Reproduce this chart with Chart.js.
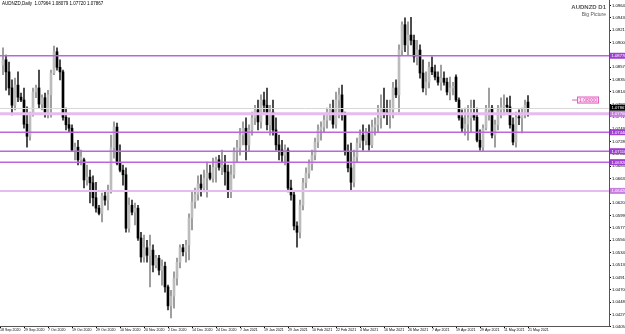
<!DOCTYPE html>
<html>
<head>
<meta charset="utf-8">
<script src="https://cdn.jsdelivr.net/npm/chart.js@4/dist/chart.umd.min.js"></script>
<style>
  html, body { margin: 0; padding: 0; background: #fff; }
  #chart { display: block; }
</style>
</head>
<body>
<canvas id="chart" width="625" height="334"></canvas>
<script>
// AUDNZD daily candles
const openP = [
  1.0861,1.0870,1.0849,1.0821,1.0791,1.0826,1.0805,1.0800,1.0758,1.0737,
  1.0774,1.0814,1.0821,1.0793,1.0804,1.0779,1.0809,1.0847,1.0884,1.0857,
  1.0849,1.0770,1.0757,1.0751,1.0713,1.0718,1.0696,1.0696,1.0661,1.0666,
  1.0656,1.0630,1.0612,1.0603,1.0633,1.0626,1.0643,1.0717,1.0753,1.0690,
  1.0678,1.0670,1.0577,1.0617,1.0605,1.0612,1.0560,1.0527,1.0543,1.0530,
  1.0539,1.0513,1.0525,1.0504,1.0511,1.0475,1.0442,1.0459,1.0490,1.0518,
  1.0543,1.0536,1.0548,1.0595,1.0623,1.0636,1.0654,1.0647,1.0664,1.0673,
  1.0664,1.0683,1.0696,1.0683,1.0687,1.0675,1.0643,1.0670,1.0710,1.0717,
  1.0739,1.0751,1.0722,1.0748,1.0769,1.0783,1.0762,1.0800,1.0791,1.0757,
  1.0779,1.0748,1.0722,1.0713,1.0704,1.0713,1.0647,1.0635,1.0581,1.0570,
  1.0617,1.0656,1.0673,1.0689,1.0704,1.0727,1.0748,1.0753,1.0765,1.0779,
  1.0783,1.0758,1.0800,1.0809,1.0774,1.0710,1.0682,1.0657,1.0701,1.0725,
  1.0739,1.0730,1.0744,1.0722,1.0753,1.0757,1.0769,1.0786,1.0779,1.0774,
  1.0783,1.0821,1.0809,1.0887,1.0931,1.0896,1.0913,1.0904,1.0875,1.0887,
  1.0847,1.0821,1.0831,1.0857,1.0849,1.0840,1.0831,1.0838,1.0831,1.0814,
  1.0821,1.0840,1.0800,1.0769,1.0751,1.0758,1.0769,1.0777,1.0770,1.0730,
  1.0718,1.0751,1.0783,1.0786,1.0739,1.0757,1.0783,1.0788,1.0791,1.0788,
  1.0757,1.0727,1.0770,1.0769,1.0774,1.07964
];
const highP = [
  1.0891,1.0878,1.0866,1.0835,1.0838,1.0849,1.0812,1.0821,1.0788,1.0779,
  1.0821,1.0826,1.0852,1.0809,1.0812,1.0817,1.0852,1.0894,1.0891,1.0870,
  1.0852,1.0786,1.0769,1.0757,1.0725,1.0730,1.0713,1.0699,1.0687,1.0678,
  1.0668,1.0657,1.0617,1.0638,1.0643,1.0652,1.0739,1.0762,1.0760,1.0722,
  1.0687,1.0682,1.0630,1.0626,1.0621,1.0617,1.0570,1.0565,1.0556,1.0565,
  1.0548,1.0530,1.0530,1.0522,1.0518,1.0478,1.0469,1.0501,1.0525,1.0548,
  1.0549,1.0556,1.0602,1.0643,1.0647,1.0668,1.0670,1.0678,1.0692,1.0687,
  1.0699,1.0701,1.0704,1.0713,1.0704,1.0687,1.0687,1.0717,1.0730,1.0751,
  1.0762,1.0769,1.0757,1.0779,1.0791,1.0800,1.0809,1.0814,1.0821,1.0791,
  1.0800,1.0769,1.0739,1.0730,1.0722,1.0717,1.0661,1.0643,1.0588,1.0626,
  1.0664,1.0682,1.0696,1.0713,1.0734,1.0757,1.0762,1.0774,1.0786,1.0793,
  1.0800,1.0814,1.0821,1.0826,1.0779,1.0722,1.0725,1.0713,1.0734,1.0748,
  1.0757,1.0751,1.0757,1.0765,1.0769,1.0791,1.0809,1.0821,1.0800,1.0800,
  1.0831,1.0835,1.0896,1.0936,1.0943,1.0936,1.0944,1.0913,1.0904,1.0896,
  1.0870,1.0849,1.0866,1.0875,1.0861,1.0849,1.0861,1.0849,1.0838,1.0840,
  1.0831,1.0844,1.0804,1.0783,1.0786,1.0791,1.0800,1.0800,1.0786,1.0748,
  1.0757,1.0791,1.0821,1.0791,1.0765,1.0791,1.0804,1.0809,1.0804,1.0807,
  1.0769,1.0779,1.0783,1.0786,1.0800,1.08079
];
const lowP = [
  1.0844,1.0817,1.0809,1.0774,1.0783,1.0797,1.0797,1.0751,1.0718,1.0730,
  1.0772,1.0804,1.0786,1.0783,1.0770,1.0769,1.0770,1.0844,1.0852,1.0835,
  1.0765,1.0748,1.0744,1.0710,1.0696,1.0687,1.0687,1.0647,1.0652,1.0621,
  1.0616,1.0605,1.0600,1.0588,1.0617,1.0609,1.0638,1.0699,1.0687,1.0675,
  1.0652,1.0570,1.0570,1.0600,1.0583,1.0556,1.0518,1.0518,1.0518,1.0475,
  1.0501,1.0508,1.0496,1.0478,1.0466,1.0435,1.0421,1.0438,1.0478,1.0508,
  1.0529,1.0518,1.0522,1.0574,1.0612,1.0626,1.0633,1.0640,1.0631,1.0661,
  1.0657,1.0657,1.0678,1.0670,1.0652,1.0630,1.0630,1.0664,1.0692,1.0704,
  1.0722,1.0696,1.0710,1.0739,1.0757,1.0748,1.0751,1.0779,1.0748,1.0739,
  1.0739,1.0713,1.0696,1.0692,1.0687,1.0640,1.0626,1.0574,1.0544,1.0560,
  1.0609,1.0647,1.0664,1.0678,1.0696,1.0717,1.0730,1.0744,1.0751,1.0765,
  1.0751,1.0751,1.0769,1.0765,1.0704,1.0675,1.0643,1.0649,1.0692,1.0717,
  1.0713,1.0722,1.0713,1.0717,1.0739,1.0744,1.0751,1.0769,1.0757,1.0751,
  1.0769,1.0804,1.0779,1.0878,1.0884,1.0878,1.0896,1.0866,1.0861,1.0838,
  1.0814,1.0809,1.0821,1.0844,1.0835,1.0826,1.0817,1.0826,1.0809,1.0800,
  1.0809,1.0797,1.0765,1.0744,1.0739,1.0730,1.0744,1.0765,1.0727,1.0713,
  1.0710,1.0748,1.0765,1.0734,1.0718,1.0748,1.0769,1.0774,1.0779,1.0751,
  1.0722,1.0718,1.0757,1.0743,1.0769,1.07720
];
const closeP = [
  1.0870,1.0849,1.0821,1.0791,1.0826,1.0805,1.0800,1.0758,1.0737,1.0774,
  1.0814,1.0821,1.0793,1.0804,1.0779,1.0809,1.0847,1.0884,1.0857,1.0849,
  1.0770,1.0757,1.0751,1.0713,1.0718,1.0696,1.0701,1.0661,1.0666,1.0656,
  1.0630,1.0612,1.0603,1.0633,1.0626,1.0643,1.0717,1.0753,1.0690,1.0678,
  1.0670,1.0577,1.0617,1.0605,1.0612,1.0560,1.0527,1.0543,1.0530,1.0546,
  1.0513,1.0525,1.0504,1.0511,1.0475,1.0442,1.0459,1.0490,1.0518,1.0543,
  1.0536,1.0548,1.0595,1.0623,1.0636,1.0654,1.0647,1.0664,1.0673,1.0664,
  1.0683,1.0696,1.0683,1.0687,1.0675,1.0643,1.0670,1.0710,1.0717,1.0739,
  1.0751,1.0722,1.0748,1.0769,1.0783,1.0762,1.0800,1.0791,1.0757,1.0779,
  1.0748,1.0722,1.0713,1.0704,1.0713,1.0647,1.0635,1.0581,1.0570,1.0617,
  1.0656,1.0673,1.0689,1.0704,1.0727,1.0748,1.0753,1.0765,1.0779,1.0783,
  1.0758,1.0800,1.0809,1.0774,1.0710,1.0682,1.0657,1.0701,1.0725,1.0739,
  1.0730,1.0744,1.0722,1.0753,1.0757,1.0769,1.0786,1.0779,1.0774,1.0783,
  1.0821,1.0809,1.0887,1.0931,1.0896,1.0913,1.0904,1.0875,1.0887,1.0847,
  1.0821,1.0831,1.0857,1.0849,1.0840,1.0831,1.0838,1.0831,1.0814,1.0821,
  1.0824,1.0800,1.0769,1.0751,1.0758,1.0769,1.0777,1.0770,1.0730,1.0718,
  1.0751,1.0783,1.0786,1.0739,1.0757,1.0783,1.0788,1.0791,1.0788,1.0757,
  1.0727,1.0770,1.0769,1.0774,1.0791,1.07867
];

// one date label every 8 bars
const xLabels = ['18 Sep 2020','29 Sep 2020','7 Oct 2020','19 Oct 2020','29 Oct 2020',
  '10 Nov 2020','20 Nov 2020','2 Dec 2020','14 Dec 2020','24 Dec 2020','7 Jan 2021',
  '19 Jan 2021','29 Jan 2021','10 Feb 2021','22 Feb 2021','4 Mar 2021','16 Mar 2021',
  '26 Mar 2021','7 Apr 2021','19 Apr 2021','29 Apr 2021','11 May 2021','21 May 2021'];

const yTicks = [1.04055,1.04270,1.04485,1.04700,1.04915,1.05130,1.05345,1.05560,
  1.05775,1.05990,1.06205,1.06420,1.06635,1.06850,1.07065,1.07280,1.07495,1.07710,
  1.07925,1.08140,1.08355,1.08570,1.08785,1.09000,1.09215,1.09430,1.09645];

// support / resistance levels
const levelValues = [1.0877, 1.0776, 1.0744, 1.0711, 1.0692, 1.0642];
const levelColors = ['#bb66dd', '#e4bdf0', '#bb66dd', '#bb66dd', '#bb66dd', '#e4bdf0'];
const levelWidths = [1.5, 3, 1.5, 1.5, 1.5, 2];
const lastPrice = 1.07867;
const markPrice = 1.08000;

const isUp = i => closeP[i] >= openP[i];

// Chart.js reserves room for half a tick label at the edges; the reference has none
function noPadding(s) {
    s.paddingTop = 0; s.paddingBottom = 0; s.paddingLeft = 0; s.paddingRight = 0;
}

const overlay = {
    id: 'overlay',
    afterDatasetsDraw(chart) {
        const ctx = chart.ctx;
        const a = chart.chartArea;
        const y = chart.scales.y;
        ctx.save();

        // last price line
        let py = Math.round(y.getPixelForValue(lastPrice)) + 0.5;
        ctx.strokeStyle = '#d8d8d8';
        ctx.lineWidth = 1;
        ctx.beginPath(); ctx.moveTo(a.left, py); ctx.lineTo(a.right, py); ctx.stroke();

        levelValues.forEach((v, k) => {
            const ly = y.getPixelForValue(v);
            ctx.strokeStyle = levelColors[k];
            ctx.lineWidth = levelWidths[k];
            ctx.beginPath(); ctx.moveTo(a.left, ly); ctx.lineTo(a.right, ly); ctx.stroke();
        });

        // price boxes on the axis
        ctx.font = '4.2px "Liberation Sans"';
        ctx.textBaseline = 'middle';
        ctx.textAlign = 'left';
        const box = (v, col) => {
            const by = y.getPixelForValue(v);
            ctx.fillStyle = col;
            ctx.fillRect(a.right + 1, by - 3, 16, 6);
            ctx.fillStyle = '#fff';
            ctx.fillText(v.toFixed(5), a.right + 2.5, by + 0.3);
        };
        levelValues.forEach((v, k) => box(v, k === 1 || k === 5 ? '#c77ee0' : '#a040d0'));
        box(lastPrice, '#000');

        // 1.08000 mark
        const my = y.getPixelForValue(markPrice);
        ctx.strokeStyle = '#e060c0';
        ctx.lineWidth = 1;
        ctx.beginPath(); ctx.moveTo(572, my); ctx.lineTo(577, my); ctx.stroke();
        ctx.fillStyle = '#fde2f4';
        ctx.fillRect(577, my - 3.5, 22, 7);
        ctx.strokeRect(577.5, my - 3, 21, 6);
        ctx.fillStyle = '#e040b0';
        ctx.font = '5px "Liberation Sans"';
        ctx.fillText('1.08000', 579, my + 0.3);

        // titles
        ctx.fillStyle = '#000';
        ctx.font = '4.5px "Liberation Sans"';
        ctx.textBaseline = 'top';
        ctx.fillText('AUDNZD,Daily  1.07964 1.08079 1.07720 1.07867', 2, 2);
        ctx.textAlign = 'right';
        ctx.fillStyle = '#555';
        ctx.font = 'bold 6px "Liberation Sans"';
        ctx.fillText('AUDNZD D1', 606, 4);
        ctx.font = '5px "Liberation Sans"';
        ctx.fillText('Big Picture', 606, 12.5);
        ctx.restore();
    }
};

new Chart(document.getElementById('chart'), {
    type: 'bar',
    data: {
        datasets: [
            {
                label: 'body',
                data: openP.map((o, i) => ({ x: i, y: [o, closeP[i]] })),
                backgroundColor: openP.map((o, i) => isUp(i) ? '#bcbcbc' : '#000'),
                barThickness: 2,
                minBarLength: 1,
                grouped: false,
                order: 0
            },
            {
                label: 'wick',
                data: lowP.map((l, i) => ({ x: i, y: [l, highP[i]] })),
                backgroundColor: lowP.map((l, i) => isUp(i) ? '#8c8c8c' : '#2a2a2a'),
                barThickness: 1,
                grouped: false,
                order: 1
            }
        ]
    },
    options: {
        responsive: false,
        animation: false,
        devicePixelRatio: 1,
        layout: { padding: 0 },
        plugins: { legend: { display: false }, tooltip: { enabled: false } },
        scales: {
            x: {
                type: 'linear',
                offset: false,
                min: -1,
                max: 202,
                afterBuildTicks: s => { s.ticks = xLabels.map((_, k) => ({ value: k * 8 - 1 })); },
                afterFit: s => { s.height = 8; noPadding(s); },
                ticks: {
                    align: 'start',
                    maxRotation: 0,
                    autoSkip: false,
                    padding: 0,
                    color: '#000',
                    font: { size: 3.6, family: 'Liberation Sans' },
                    callback: (v, idx) => xLabels[idx]
                },
                grid: { offset: false, drawOnChartArea: false, tickLength: 2, color: '#000' },
                border: { color: '#555' }
            },
            y: {
                position: 'right',
                min: 1.0407,
                max: 1.0974,
                afterBuildTicks: s => { s.ticks = yTicks.map(v => ({ value: v })); },
                afterFit: s => { s.width = 16; noPadding(s); },
                ticks: {
                    padding: 1,
                    color: '#000',
                    font: { size: 4.2, family: 'Liberation Sans' },
                    callback: v => v.toFixed(5)
                },
                grid: { drawOnChartArea: false, tickLength: 2, color: '#000' },
                border: { color: '#555' }
            }
        }
    },
    plugins: [overlay]
});
</script>
</body>
</html>
